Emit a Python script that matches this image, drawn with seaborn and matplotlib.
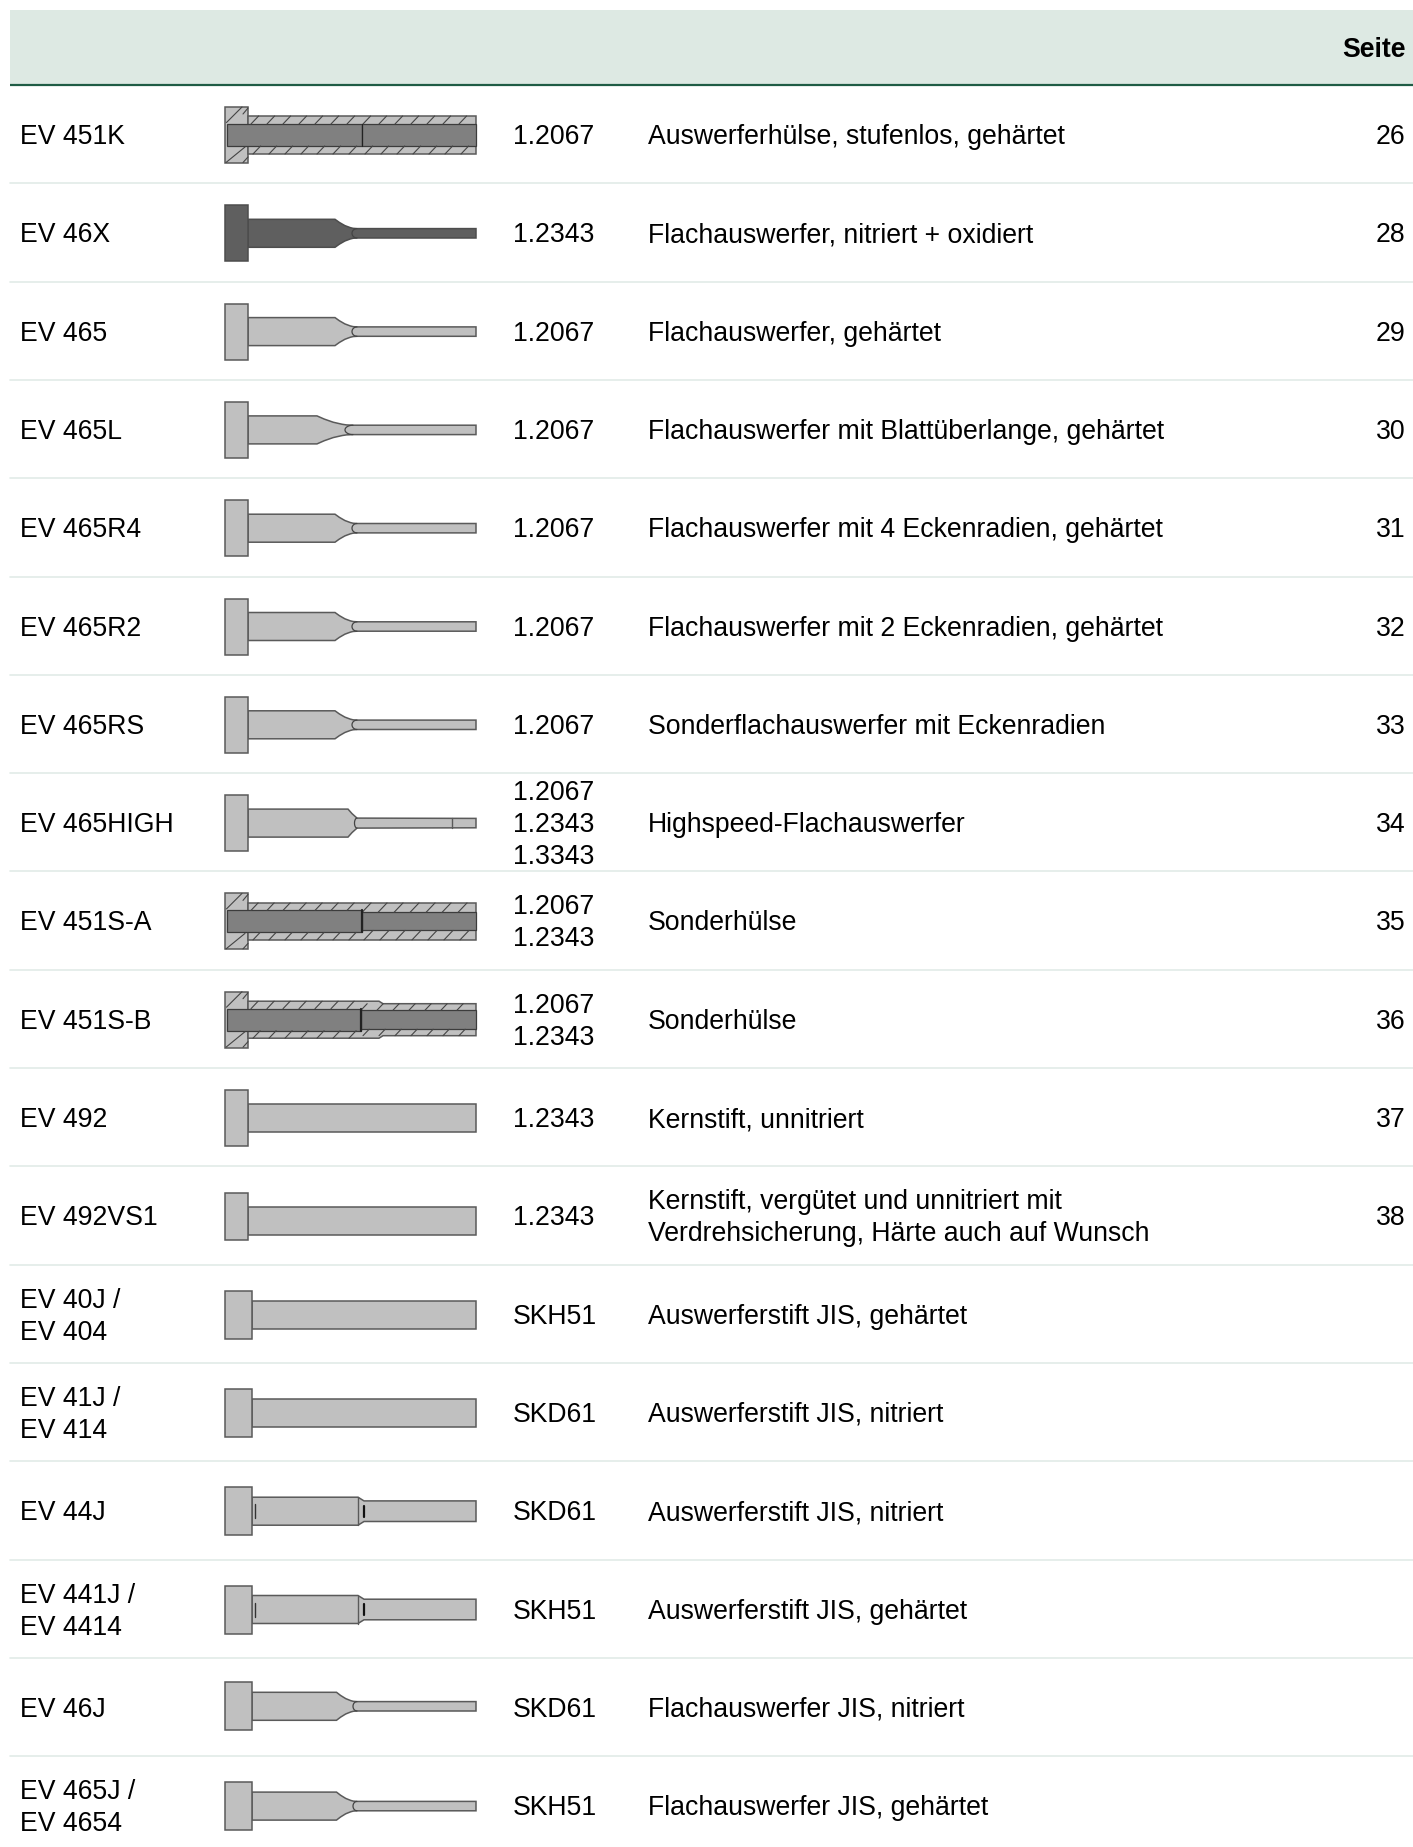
import numpy as np
import pandas as pd
import seaborn as sns
import matplotlib.pyplot as plt

names = [["EV 451K"], ["EV 46X"], ["EV 465"], ["EV 465L"], ["EV 465R4"], ["EV 465R2"],
         ["EV 465RS"], ["EV 465HIGH"], ["EV 451S-A"], ["EV 451S-B"], ["EV 492"], ["EV 492VS1"],
         ["EV 40J /", "EV 404"], ["EV 41J /", "EV 414"], ["EV 44J"], ["EV 441J /", "EV 4414"],
         ["EV 46J"], ["EV 465J /", "EV 4654"]]
materials = [["1.2067"], ["1.2343"], ["1.2067"], ["1.2067"], ["1.2067"], ["1.2067"], ["1.2067"],
             ["1.2067", "1.2343", "1.3343"], ["1.2067", "1.2343"], ["1.2067", "1.2343"],
             ["1.2343"], ["1.2343"], ["SKH51"], ["SKD61"], ["SKD61"], ["SKH51"], ["SKD61"], ["SKH51"]]
descriptions = [["Auswerferhülse, stufenlos, gehärtet"],
                ["Flachauswerfer, nitriert + oxidiert"],
                ["Flachauswerfer, gehärtet"],
                ["Flachauswerfer mit Blattüberlange, gehärtet"],
                ["Flachauswerfer mit 4 Eckenradien, gehärtet"],
                ["Flachauswerfer mit 2 Eckenradien, gehärtet"],
                ["Sonderflachauswerfer mit Eckenradien"],
                ["Highspeed-Flachauswerfer"],
                ["Sonderhülse"],
                ["Sonderhülse"],
                ["Kernstift, unnitriert"],
                ["Kernstift, vergütet und unnitriert mit", "Verdrehsicherung, Härte auch auf Wunsch"],
                ["Auswerferstift JIS, gehärtet"],
                ["Auswerferstift JIS, nitriert"],
                ["Auswerferstift JIS, nitriert"],
                ["Auswerferstift JIS, gehärtet"],
                ["Flachauswerfer JIS, nitriert"],
                ["Flachauswerfer JIS, gehärtet"]]
pages = ["26", "28", "29", "30", "31", "32", "33", "34", "35", "36", "37", "38", "", "", "", "", "", ""]
icon_kinds = ["sleeve", "flat_dark", "flat", "flat_long", "flat", "flat", "flat", "high",
              "sleeve_a", "sleeve_b", "pin", "pin_short", "jis", "jis", "jis_step", "jis_step",
              "jis_flat", "jis_flat"]

# layout in pixels
W, H = 1413, 1847
HEAD_TOP, HEAD_BOT = 9.5, 84.5
ROW0, ROW_H = 135.0, 98.3
TXT = 26.65 * 0.72
LIGHT, DARK, MID, EDGE = "#c0c0c0", "#5f5f5f", "#808080", "#5a5a5a"

sns.set_theme(style="white")
plt.rcParams["font.family"] = ["Liberation Sans", "DejaVu Sans"]

fig = plt.figure(figsize=(W / 100, H / 100), dpi=100)
ax = fig.add_axes([0, 0, 1, 1])

ax.fill_between([10, W], HEAD_TOP, HEAD_BOT, color="#dde9e3", lw=0, zorder=1)
ax.plot([10, W], [HEAD_BOT, HEAD_BOT], color="#1f5c45", lw=1.6, zorder=2, solid_capstyle="butt")

# row rules
edges = pd.DataFrame({"x": np.tile([10, W], 17),
                      "y": np.repeat(85 + ROW_H * np.arange(1, 18), 2),
                      "row": np.repeat(np.arange(17), 2)})
sns.lineplot(data=edges, x="x", y="y", units="row", estimator=None, color="#e2ebe7", lw=1.2,
             ax=ax, zorder=1, legend=False)
ax.set_xlim(0, W)
ax.set_ylim(H, 0)
ax.axis("off")


def outline(xs, hs, cy, color, edge=EDGE, lw=1.1, z=3):
    # symmetric body from a top profile
    xs = np.array(xs, float)
    hs = np.array(hs, float)
    px = np.r_[xs, xs[::-1]]
    py = np.r_[cy - hs, cy + hs[::-1]]
    ax.fill(px, py, facecolor=color, edgecolor=edge, lw=lw, zorder=z, joinstyle="miter")


def neck_arc(cy, neck, width, blade):
    t = np.linspace(-np.pi / 2, np.pi / 2, 20)
    ax.plot(neck - width * np.cos(t), cy + blade * np.sin(t), color="#444444", lw=0.9, zorder=5)


def flat(cy, color, head_r=248, head_h=28, shaft_end=335, neck=357, blade=4.7, arc=5, edge=EDGE):
    tx = np.array([0, .2, .45, .7, .82, 1.0])
    ty = np.array([1, .66, .32, .1, .03, 0])
    xs = [head_r] + list(shaft_end + tx * (neck - shaft_end)) + [476]
    hs = [14] + list(blade + ty * (14 - blade)) + [blade]
    outline(xs, hs, cy, color, edge=edge)
    outline([225, head_r], [head_h, head_h], cy, color, edge=edge, z=4)
    neck_arc(cy, neck, arc, blade)


def hatch_band(cy, x0, x1, y0, y1, z=5):
    # short slanted strokes inside a wall of the sleeve
    run = (y1 - y0) * 0.95
    for x in np.arange(x0, x1 - run, 16.0):
        ax.plot([x, x + run], [y1, y0], color="#444444", lw=0.8, zorder=z)


def sleeve(cy, xs, hs, steps):
    outline([225, 248], [28, 28], cy, LIGHT, z=3)
    outline(xs, hs, cy, LIGHT, z=3)
    # head strokes
    for x0, x1, y0, y1 in [(226.5, 242, -12.5, -28), (243, 248, -7 - 14, -27),
                           (226, 245, 27.5, 12), (243, 248, 27.5, 22)]:
        ax.plot([x0, x1], [cy + y0, cy + y1], color="#444444", lw=0.8, zorder=5)
    for x0, x1, ho, hi in steps:
        hatch_band(cy, x0, x1, cy - ho, cy - hi)
        hatch_band(cy, x0 + 2, x1, cy + hi, cy + ho)


def inner(cy, sections, split):
    for (x0, x1, h) in sections:
        outline([x0, x1], [h, h], cy, MID, edge="#3c3c3c", lw=0.9, z=4)
    same = sections[0][2] == sections[1][2]
    ax.plot([split, split], [cy - sections[0][2], cy + sections[0][2]], color="#222222",
            lw=0.8 if same else 1.6, zorder=6)


def draw_icon(kind, cy):
    if kind == "sleeve":
        sleeve(cy, [248, 476], [19, 19], [(251, 476, 19, 11)])
        inner(cy, [(227, 361.5, 11), (361.5, 476, 11)], 361.5)
    elif kind == "sleeve_a":
        sleeve(cy, [248, 476], [18.5, 18.5], [(251, 362, 18.5, 11), (362, 476, 18.5, 9)])
        inner(cy, [(227, 362, 11), (362, 476, 9)], 362)
    elif kind == "sleeve_b":
        sleeve(cy, [248, 379, 383, 476], [18.5, 18.5, 16, 16],
               [(251, 361, 18.5, 11), (361, 476, 16, 9.5)])
        inner(cy, [(227, 361, 11), (361, 476, 9.5)], 361)
    elif kind == "flat":
        flat(cy, LIGHT)
    elif kind == "flat_dark":
        flat(cy, DARK, edge="#4d4d4d")
    elif kind == "flat_long":
        flat(cy, LIGHT, shaft_end=317, neck=353, arc=8)
    elif kind == "high":
        outline([248, 348, 352, 357, 476], [14, 14, 9.5, 5, 4.7], cy, LIGHT)
        outline([225, 248], [28, 28], cy, LIGHT, z=4)
        neck_arc(cy, 357, 2.5, 5)
        ax.plot([451.5, 451.5], [cy - 4.7, cy + 4.7], color=EDGE, lw=1.0, zorder=5)
    elif kind == "pin":
        outline([248, 476], [14, 14], cy, LIGHT)
        outline([225, 248], [28, 28], cy, LIGHT, z=4)
    elif kind == "pin_short":
        outline([248, 476], [14, 14], cy + 4.2, LIGHT)
        outline([225, 248], [23.3, 23.3], cy, LIGHT, z=4)
    elif kind == "jis":
        outline([252, 476], [14, 14], cy, LIGHT)
        outline([225, 252], [24, 24], cy, LIGHT, z=4)
    elif kind == "jis_step":
        outline([252, 358, 364, 476], [14, 14, 10.3, 10.3], cy, LIGHT)
        outline([225, 252], [24, 24], cy, LIGHT, z=4)
        ax.plot([254.5, 254.5], [cy - 7, cy + 7], color="#333333", lw=1.0, zorder=5)
        ax.plot([364, 364], [cy - 5.5, cy + 5.5], color="#111111", lw=1.6, zorder=5)
        ax.plot([358, 358], [cy - 14, cy + 14], color=EDGE, lw=1.0, zorder=5)
    elif kind == "jis_flat":
        flat(cy, LIGHT, head_r=252, head_h=24, shaft_end=336.5, neck=357, arc=4)


def write(x, cy, lines, ha="left", weight="normal"):
    for j, line in enumerate(lines):
        base = cy + 9.1 + (j - (len(lines) - 1) / 2) * 32
        ax.text(x, base, line, ha=ha, va="baseline", fontsize=TXT, color="#000000",
                fontweight=weight, zorder=6)


write(1405.5, 47.5, ["Seite"], ha="right", weight="bold")

for i in range(len(names)):
    cy = ROW0 + ROW_H * i
    write(20, cy, names[i])
    draw_icon(icon_kinds[i], cy - (1.5 if i == 16 else 0))
    write(513, cy, materials[i])
    write(648, cy, descriptions[i])
    if pages[i]:
        write(1405.5, cy, [pages[i]], ha="right")

fig.savefig("out.png", dpi=100)
